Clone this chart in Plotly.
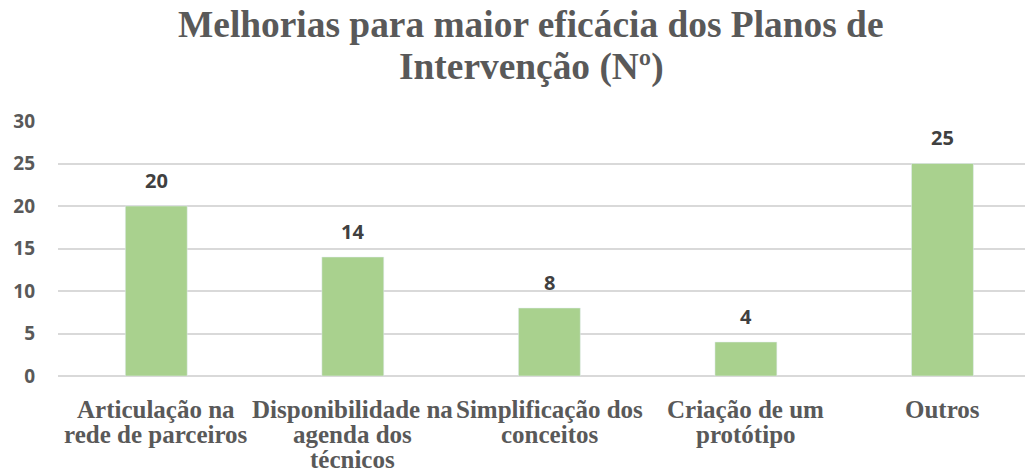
import plotly.graph_objects as go

categories = ["Articulação na<br>rede de parceiros", "Disponibilidade na<br>agenda dos<br>técnicos",
              "Simplificação dos<br>conceitos", "Criação de um<br>protótipo", "Outros"]
values = [20, 14, 8, 4, 25]
title_lines = ["Melhorias para maior eficácia dos Planos de", "Intervenção (Nº)"]

# the page body adds an 8px offset, so the figure is laid out 8px smaller
OFF = 8
W, H = 1035 - OFF, 474 - OFF
L, R, T, B = 58 - OFF, 10, 121 - OFF, 98
PW = W - L - R

fig = go.Figure()
fig.add_trace(go.Bar(x=list(range(len(categories))), y=values, marker_color="#A9D18E",
                     width=0.315, hoverinfo="skip"))

# value labels
for i, v in enumerate(values):
    fig.add_annotation(x=i, y=v, text=str(v), showarrow=False, yanchor="middle", yshift=26,
                       font=dict(family="Open Sans", size=20, color="#404040", weight="bold"))

# category labels (one annotation per line for tight line spacing)
for i, c in enumerate(categories):
    for j, line in enumerate(c.split("<br>")):
        fig.add_annotation(x=i, xref="x", y=0, yref="paper", text=line, showarrow=False,
                           yanchor="middle", yshift=-(33.6 + 25 * j),
                           font=dict(family="Liberation Serif", size=25, color="#595959",
                                     weight="bold"))

# title lines
title_centers = [24.6 - OFF, 66.5 - OFF]
for line, cy in zip(title_lines, title_centers):
    fig.add_annotation(x=(531 - OFF - L) / PW, xref="paper", y=1, yref="paper", text=line,
                       showarrow=False, xanchor="center", yanchor="middle", yshift=(T - cy),
                       font=dict(family="Liberation Serif", size=37.4, color="#595959",
                                 weight="bold"))

fig.update_layout(
    width=W, height=H,
    margin=dict(l=L, r=R, t=T, b=B, autoexpand=False),
    paper_bgcolor="white", plot_bgcolor="white",
    showlegend=False,
)
fig.update_yaxes(range=[0, 30], dtick=5, showgrid=True, gridcolor="#D9D9D9", gridwidth=1.5,
                 zeroline=True, zerolinecolor="#D9D9D9", zerolinewidth=1.5, showline=False,
                 ticks="", ticklabelstandoff=22, automargin=False,
                 tickfont=dict(family="Open Sans", size=19, color="#595959", weight="bold"))
fig.update_xaxes(range=[-0.5, 4.42], showline=False, ticks="", showticklabels=False,
                 showgrid=False, zeroline=False, automargin=False)

fig.write_html("out.html")
